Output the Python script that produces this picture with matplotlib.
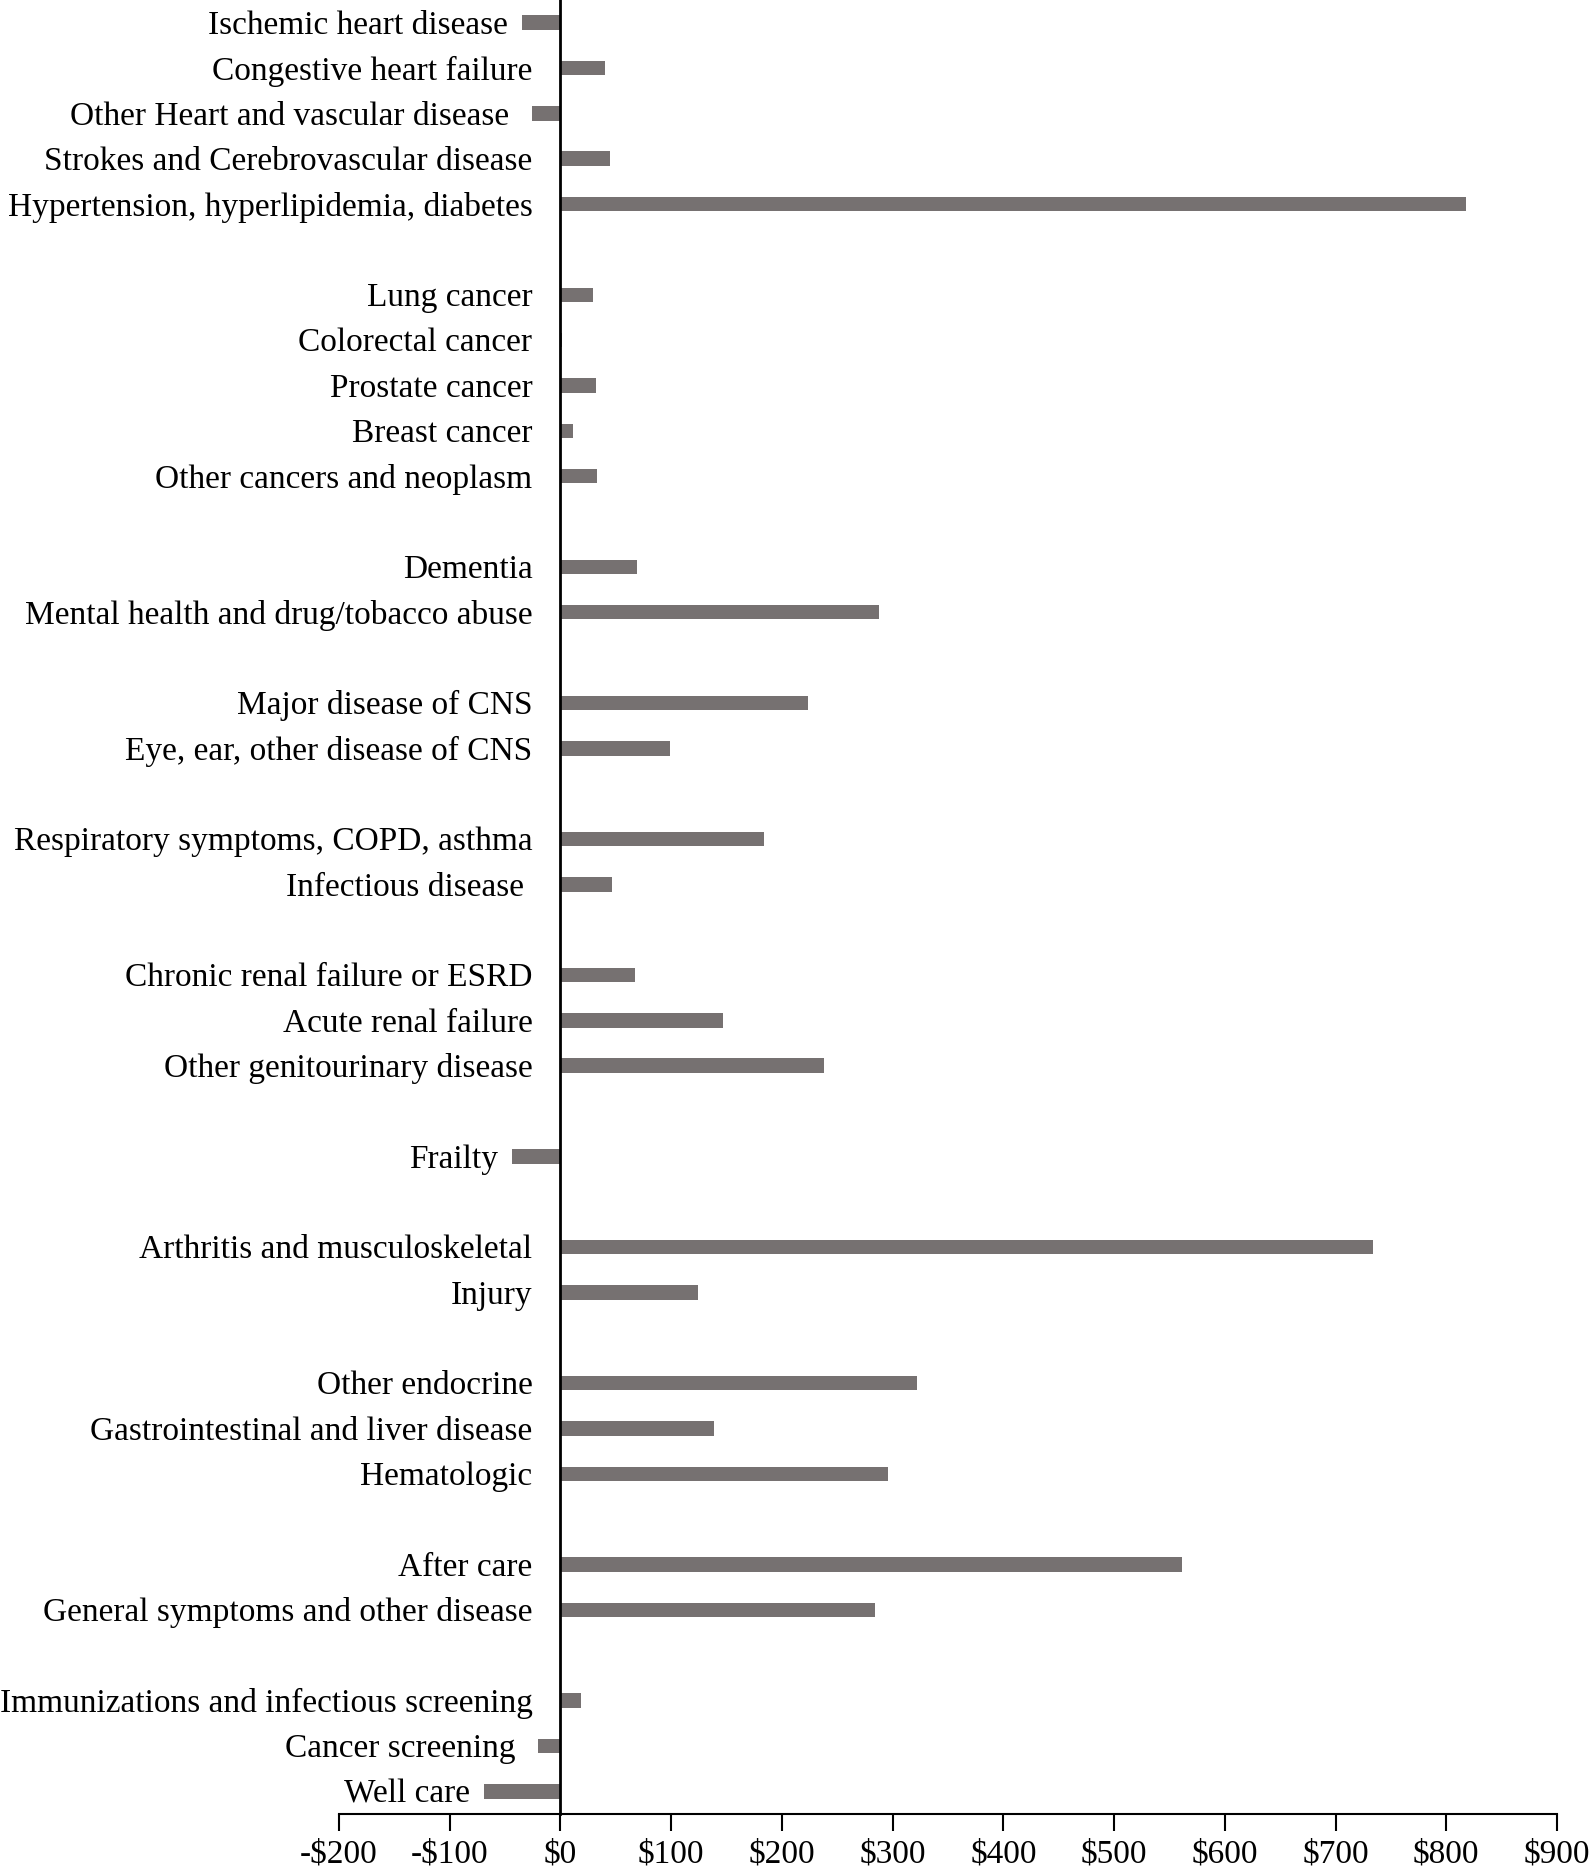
import matplotlib
matplotlib.use("Agg")
import matplotlib.pyplot as plt

categories = [
    "Ischemic heart disease", "Congestive heart failure", "Other Heart and vascular disease ",
    "Strokes and Cerebrovascular disease", "Hypertension, hyperlipidemia, diabetes", "",
    "Lung cancer", "Colorectal cancer", "Prostate cancer", "Breast cancer",
    "Other cancers and neoplasm", "",
    "Dementia", "Mental health and drug/tobacco abuse", "",
    "Major disease of CNS", "Eye, ear, other disease of CNS", "",
    "Respiratory symptoms, COPD, asthma", "Infectious disease ", "",
    "Chronic renal failure or ESRD", "Acute renal failure", "Other genitourinary disease", "",
    "Frailty", "",
    "Arthritis and musculoskeletal", "Injury", "",
    "Other endocrine", "Gastrointestinal and liver disease", "Hematologic", "",
    "After care", "General symptoms and other disease", "",
    "Immunizations and infectious screening", "Cancer screening ", "Well care",
]
values = [
    -35, 40, -26, 45, 818, None,
    29, 1, 32, 11, 33, None,
    69, 288, None,
    224, 99, None,
    184, 47, None,
    67, 147, 238, None,
    -44, None,
    734, 124, None,
    322, 139, 296, None,
    561, 284, None,
    19, -20, -69,
]
xticks = [-200, -100, 0, 100, 200, 300, 400, 500, 600, 700, 800, 900]
xticklabels = ["-$200", "-$100", "$0", "$100", "$200", "$300", "$400", "$500",
               "$600", "$700", "$800", "$900"]

plt.rcParams['font.family'] = ['Liberation Serif', 'DejaVu Serif']
FS = 24
BAR = "#767171"

fig = plt.figure(figsize=(15.9, 18.68), dpi=100)
ax = fig.add_axes([339/1590, 1 - 1814/1868, (1557-339)/1590, 1814/1868])

n = len(categories)
ys = list(range(n))
for y, v, lab in zip(ys, values, categories):
    if v is None:
        continue
    ax.barh(y, v, height=0.32, color=BAR, left=0)
    base = min(v, 0)
    gap = -28 if v >= 0 else -14
    ax.annotate(lab, xy=(base, y), xytext=(gap, -3), textcoords="offset pixels",
                ha="right", va="center", fontsize=FS, color="black")

ax.set_ylim(n - 0.5, -0.5)
ax.set_xlim(-200, 900)
ax.set_xticks(xticks)
ax.set_xticklabels(xticklabels, fontsize=FS)
ax.tick_params(axis="x", direction="out", length=12, width=1.5, pad=6)
ax.set_yticks([])
for s in ["top", "right"]:
    ax.spines[s].set_visible(False)
ax.spines["left"].set_position(("data", 0))
ax.spines["left"].set_linewidth(2)
ax.spines["bottom"].set_linewidth(1.5)

fig.savefig("out.png", dpi=100)
